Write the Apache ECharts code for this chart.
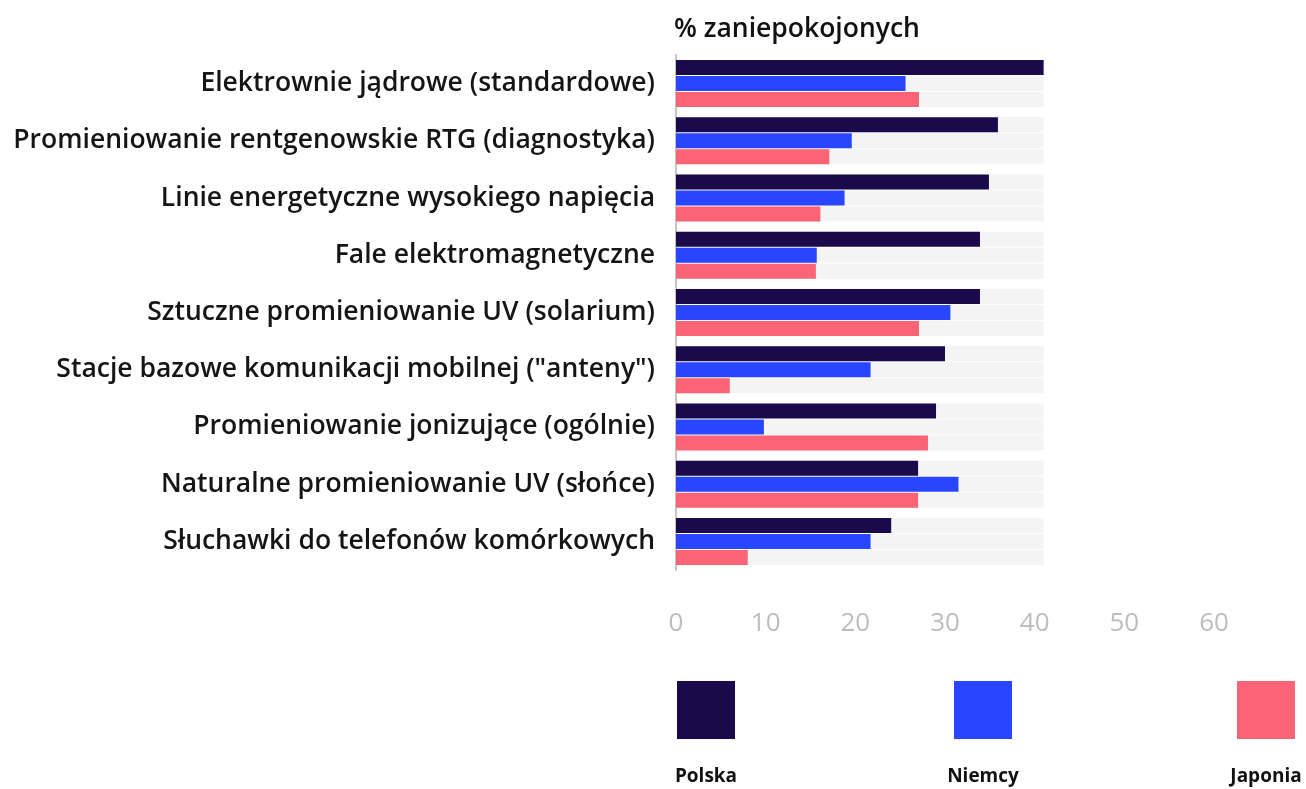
<!doctype html>
<html lang="pl">
<head>
    <meta charset="UTF-8">
    <title>% zaniepokojonych</title>
    <script src="https://cdn.jsdelivr.net/npm/echarts@6/dist/echarts.min.js"></script>
    <style>
        html, body { margin: 0; padding: 0; background: #fff; }
    </style>
</head>
<body>
<div id="main" style="width:1306px; height:789px;"></div>

<script>
    // dane
    var categories = [
        'Elektrownie jądrowe (standardowe)',
        'Promieniowanie rentgenowskie RTG (diagnostyka)',
        'Linie energetyczne wysokiego napięcia',
        'Fale elektromagnetyczne',
        'Sztuczne promieniowanie UV (solarium)',
        'Stacje bazowe komunikacji mobilnej ("anteny")',
        'Promieniowanie jonizujące (ogólnie)',
        'Naturalne promieniowanie UV (słońce)',
        'Słuchawki do telefonów komórkowych'
    ];
    var polska  = [41.0, 35.9, 34.9, 33.9, 33.9, 30.0, 29.0, 27.0, 24.0];
    var niemcy  = [25.6, 19.6, 18.8, 15.7, 30.6, 21.7, 9.8, 31.5, 21.7];
    var japonia = [27.1, 17.1, 16.1, 15.6, 27.1, 6.0, 28.1, 27.0, 8.0];
    var seriesNames = ['Polska', 'Niemcy', 'Japonia'];
    var axisMin = 0, axisMax = 60, axisStep = 10;

    var colors = ['#1a0a4b', '#2846ff', '#fa6474'];
    var font = '"Open Sans", "Noto Sans", sans-serif';
    var allValues = [polska, niemcy, japonia];

    // szare tło każdego paska sięga do największej wartości
    var bgMax = Math.max.apply(null, polska.concat(niemcy, japonia));

    var gridLeft = 676, gridTop = 55, gridHeight = 515;
    var legendLeft = [677, 954, 1237];

    var series = [];
    seriesNames.forEach(function (name, i) {
        series.push({
            name: name + '-tlo',
            type: 'bar',
            yAxisIndex: 1,
            silent: true,
            barWidth: 15,
            barGap: '6.67%',
            itemStyle: { color: '#f4f4f4' },
            data: categories.map(function () { return bgMax; }),
            z: 1
        });
    });
    seriesNames.forEach(function (name, i) {
        series.push({
            name: name,
            type: 'bar',
            yAxisIndex: 0,
            barWidth: 15,
            barGap: '6.67%',
            itemStyle: { color: colors[i] },
            data: allValues[i],
            z: 3
        });
    });

    var myChart = echarts.init(document.getElementById('main'));
    myChart.setOption({
        animation: false,
        textStyle: { fontFamily: font },
        title: {
            text: '% zaniepokojonych',
            left: 674,
            top: 16,
            padding: 0,
            textStyle: { fontFamily: font, fontSize: 26.5, fontWeight: 600, color: '#111' }
        },
        legend: seriesNames.map(function (name, i) {
            return {
                data: [name],
                left: legendLeft[i],
                top: 681,
                padding: 0,
                itemGap: 0,
                itemWidth: 58,
                itemHeight: 58,
                icon: 'rect',
                selectedMode: false,
                formatter: function () { return ''; }
            };
        }),
        graphic: seriesNames.map(function (name, i) {
            return {
                type: 'text',
                x: legendLeft[i] + 29,
                y: 777,
                style: {
                    text: name,
                    align: 'center',
                    verticalAlign: 'middle',
                    font: '700 19px ' + font,
                    fill: '#111'
                }
            };
        }),
        grid: {
            left: gridLeft,
            top: gridTop,
            height: gridHeight,
            right: 92,
            containLabel: false
        },
        xAxis: {
            type: 'value',
            min: axisMin,
            max: axisMax,
            interval: axisStep,
            axisLine: { show: false },
            axisTick: { show: false },
            splitLine: { show: false },
            axisLabel: {
                margin: 41,
                color: '#bdbdbd',
                fontSize: 26,
                fontFamily: font
            }
        },
        yAxis: [{
            type: 'category',
            inverse: true,
            data: categories,
            axisLine: { show: true, lineStyle: { color: '#c4c4c4', width: 2 } },
            axisTick: { show: false },
            axisLabel: {
                margin: 21,
                color: '#151515',
                fontSize: 26.5,
                fontWeight: 600,
                fontFamily: font
            }
        }, {
            type: 'category',
            inverse: true,
            position: 'left',
            data: categories,
            show: false
        }],
        series: series
    });
</script>
</body>
</html>
